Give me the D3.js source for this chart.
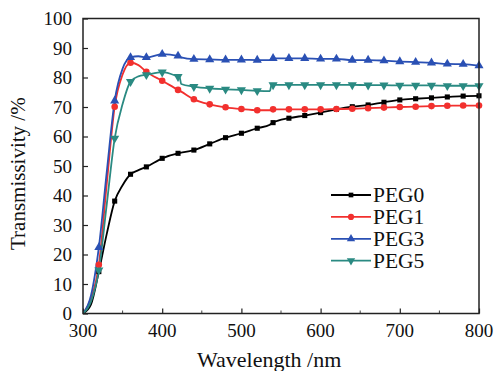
<!DOCTYPE html>
<html>
<head>
<meta charset="utf-8">
<script src="https://cdn.jsdelivr.net/npm/d3@7"></script>
<style>
  html, body { margin: 0; padding: 0; background: #fff; }
</style>
</head>
<body>
<svg id="chart" width="496" height="371"></svg>
<script>
// wavelengths (nm); markers sit on every 20 nm from 320
const wavelengths = [300, 310, 320, 330, 340, 350, 360, 370, 380, 400, 420, 422, 424, 440, 460, 480, 500, 520, 536, 538, 540, 560, 580, 600, 620, 640, 660, 680, 700, 720, 740, 760, 780, 800];
const peg0 = [0, 3, 14.2, 27, 38.1, 43.5, 47.2, 48.6, 49.7, 52.6, 54.3, 54.4, 54.5, 55.4, 57.5, 59.6, 61.1, 62.8, 64.0, 64.4, 64.7, 66.2, 67.1, 68.1, 69.2, 70.1, 70.7, 71.6, 72.4, 72.8, 73.1, 73.4, 73.7, 73.8];
const peg1 = [0, 5, 16.5, 44, 70.1, 81, 85.0, 84.2, 81.9, 78.9, 75.8, 75.5, 75.2, 72.6, 70.9, 69.9, 69.3, 68.9, 68.9, 69.2, 69.2, 69.2, 69.2, 69.2, 69.3, 69.4, 69.6, 69.8, 70.0, 70.1, 70.3, 70.4, 70.5, 70.5];
const peg3 = [0, 6, 22.4, 48, 72.1, 83, 86.8, 87.2, 86.8, 87.9, 87.3, 87.0, 86.8, 86.2, 86.1, 86.0, 86.0, 85.9, 85.9, 86.4, 86.5, 86.5, 86.5, 86.3, 86.3, 85.9, 85.9, 85.7, 85.4, 85.2, 85.0, 84.6, 84.5, 84.0];
const peg5 = [0, 4, 14.7, 37, 59.4, 71, 78.6, 80.4, 80.9, 81.8, 80.3, 80.1, 77.8, 76.9, 76.3, 76.0, 75.8, 75.5, 75.4, 77.5, 77.5, 77.5, 77.5, 77.5, 77.5, 77.5, 77.4, 77.4, 77.3, 77.3, 77.3, 77.2, 77.2, 77.2];

const seriesNames = ['PEG0', 'PEG1', 'PEG3', 'PEG5'];
const seriesValues = [peg0, peg1, peg3, peg5];
const seriesColors = ['#000000', '#f2302e', '#2a50b4', '#2a8a82'];
const seriesSymbols = [d3.symbolSquare, d3.symbolCircle, d3.symbolTriangle, d3.symbolTriangle];

const xTicks = [300, 400, 500, 600, 700, 800];
const yTicks = [0, 10, 20, 30, 40, 50, 60, 70, 80, 90, 100];

const margin = { top: 18.5, right: 17, bottom: 57.5, left: 83 };
const width = 496, height = 371;
const svg = d3.select('#chart');
const serif = '"Liberation Serif"';
const digitW = 0.5; // serif digits are half an em wide

const x = d3.scaleLinear().domain([300, 800]).range([margin.left, width - margin.right]);
const y = d3.scaleLinear().domain([0, 100]).range([height - margin.bottom, margin.top]);

// clip so curves do not spill out of the frame
svg.append('clipPath').attr('id', 'plot-clip')
  .append('rect')
  .attr('x', margin.left).attr('y', margin.top)
  .attr('width', x(800) - x(300)).attr('height', y(0) - y(100));

// tick marks only from the axis generator, pointing in
const xAxis = svg.append('g')
  .attr('transform', `translate(0,${y(0)})`)
  .call(d3.axisBottom(x).tickValues(xTicks).tickFormat('').tickSizeInner(-5).tickSizeOuter(0));
xAxis.select('.domain').remove();
xAxis.selectAll('line').attr('stroke', '#222').attr('stroke-width', 1.2);

svg.append('g').selectAll('line')
  .data([350, 450, 550, 650, 750])
  .join('line')
  .attr('x1', d => x(d)).attr('x2', d => x(d))
  .attr('y1', y(0)).attr('y2', y(0) - 3)
  .attr('stroke', '#444').attr('stroke-width', 1);

const yAxis = svg.append('g')
  .attr('transform', `translate(${x(300)},0)`)
  .call(d3.axisLeft(y).tickValues(yTicks).tickFormat('').tickSizeInner(-5).tickSizeOuter(0));
yAxis.select('.domain').remove();
yAxis.selectAll('line').attr('stroke', '#222').attr('stroke-width', 1.2);

// tick labels, plain start-anchored text
const labels = svg.append('g');
labels.selectAll('text.xl')
  .data(xTicks)
  .join('text')
  .attr('class', 'xl')
  .attr('x', d => x(d) - String(d).length * digitW * 19 / 2)
  .attr('y', y(0) + 23)
  .attr('fill', '#111')
  .style('font-family', serif).style('font-size', '19px')
  .text(d => d);
labels.selectAll('text.yl')
  .data(yTicks)
  .join('text')
  .attr('class', 'yl')
  .attr('x', d => x(300) - 11 - String(d).length * digitW * 19)
  .attr('y', d => y(d) + 6.5)
  .attr('fill', '#111')
  .style('font-family', serif).style('font-size', '19px')
  .text(d => d);

// lines
const plot = svg.append('g').attr('clip-path', 'url(#plot-clip)');
seriesValues.forEach((vals, i) => {
  const line = d3.line()
    .x((d, j) => x(wavelengths[j]))
    .y(d => y(d))
    .curve(d3.curveMonotoneX);
  plot.append('path')
    .datum(vals)
    .attr('fill', 'none')
    .attr('stroke', seriesColors[i])
    .attr('stroke-width', 1.8)
    .attr('d', line);
});

// markers every 20 nm
seriesValues.forEach((vals, i) => {
  const pts = wavelengths
    .map((w, j) => ({ w, v: vals[j] }))
    .filter(p => p.w >= 320 && p.w % 20 === 0);
  const sym = d3.symbol().type(seriesSymbols[i]).size(i === 0 ? 26 : (i === 1 ? 34 : 36));
  svg.append('g').selectAll('path')
    .data(pts)
    .join('path')
    .attr('d', sym)
    .attr('transform', p => `translate(${x(p.w)},${y(p.v)})` + (i === 3 ? ' rotate(180)' : ''))
    .attr('fill', seriesColors[i]);
});

// frame
svg.append('rect')
  .attr('x', x(300)).attr('y', y(100))
  .attr('width', x(800) - x(300)).attr('height', y(0) - y(100))
  .attr('fill', 'none').attr('stroke', '#222').attr('stroke-width', 1.5);

// legend
const legend = svg.append('g');
seriesNames.forEach((name, i) => {
  const ly = 195 + i * 21.9;
  legend.append('line')
    .attr('x1', 331).attr('x2', 371).attr('y1', ly).attr('y2', ly)
    .attr('stroke', seriesColors[i]).attr('stroke-width', 1.8);
  legend.append('path')
    .attr('d', d3.symbol().type(seriesSymbols[i]).size(i === 0 ? 22 : 30))
    .attr('transform', `translate(351,${ly})` + (i === 3 ? ' rotate(180)' : ''))
    .attr('fill', seriesColors[i]);
  legend.append('text')
    .attr('x', 373).attr('y', ly + 7)
    .attr('fill', '#111')
    .style('font-family', serif).style('font-size', '21.5px')
    .text(name);
});

// axis titles
svg.append('text')
  .attr('x', 197).attr('y', 367)
  .attr('fill', '#111')
  .style('font-family', serif).style('font-size', '22px')
  .text('Wavelength /nm');

svg.append('g')
  .attr('transform', 'translate(25,171) rotate(-90)')
  .append('text')
  .attr('x', -79).attr('y', 0)
  .attr('fill', '#111')
  .style('font-family', serif).style('font-size', '21px')
  .text('Transmissivity /%');
</script>
</body>
</html>
